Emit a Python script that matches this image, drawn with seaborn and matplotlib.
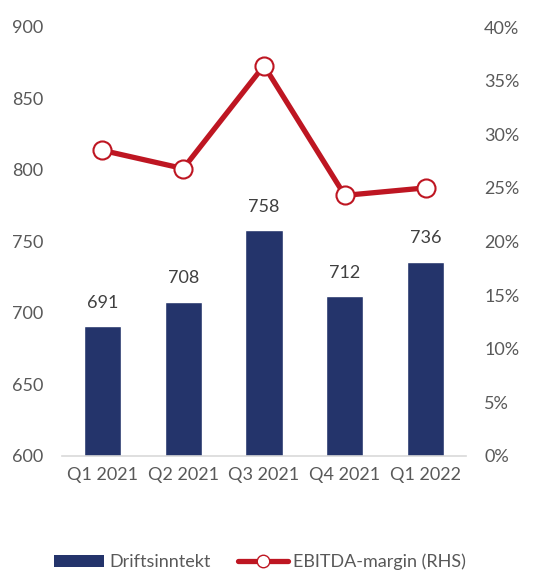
import matplotlib
matplotlib.use("Agg")
import matplotlib.pyplot as plt
import seaborn as sns
import pandas as pd
from matplotlib.ticker import PercentFormatter
from matplotlib.lines import Line2D
from matplotlib.patches import Patch

# data
kvartaler = ["Q1 2021", "Q2 2021", "Q3 2021", "Q4 2021", "Q1 2022"]
driftsinntekt = [691, 708, 758, 712, 736]
ebitda_margin = [28.5, 26.8, 36.4, 24.3, 25.0]

bar_farge = "#24346B"
linje_farge = "#BE1622"
tekst_farge = "#595959"
fs = 13

sns.set_theme(style="white")
plt.rcParams["font.family"] = ["Lato", "DejaVu Sans"]

df = pd.DataFrame({"kvartal": kvartaler, "inntekt": driftsinntekt, "margin": ebitda_margin})

fig, ax = plt.subplots(figsize=(5.51, 5.70), dpi=100)
fig.subplots_adjust(left=62/551, right=466/551, bottom=114/570, top=543/570)

sns.barplot(data=df, x="kvartal", y="inntekt", color=bar_farge, width=0.46,
            saturation=1, ax=ax)
ax.set_ylim(600, 900)
ax.set_xlim(-0.5, 4.5)
ax.set_yticks([600, 650, 700, 750, 800, 850, 900])
ax.set_xlabel("")
ax.set_ylabel("")

for i, v in enumerate(driftsinntekt):
    ax.annotate(str(v), (i, v), xytext=(0, 11), textcoords="offset points",
                ha="center", va="bottom", fontsize=fs, color="#404040")

ax2 = ax.twinx()
sns.lineplot(data=df, x="kvartal", y="margin", color=linje_farge, lw=3.8,
             marker="o", markersize=13, markerfacecolor="white",
             markeredgecolor=linje_farge, markeredgewidth=1.5, ax=ax2)
ax2.set_ylim(0, 40)
ax2.set_yticks(range(0, 41, 5))
ax2.yaxis.set_major_formatter(PercentFormatter(decimals=0))
ax2.set_ylabel("")

for a in (ax, ax2):
    for s in a.spines.values():
        s.set_visible(False)
    a.tick_params(axis="both", length=0, labelsize=fs, colors=tekst_farge)
ax.tick_params(axis="y", pad=13.5)
ax.tick_params(axis="x", pad=8)
ax2.tick_params(axis="y", pad=13)
ax.spines["bottom"].set_visible(True)
ax.spines["bottom"].set_color("#D9D9D9")
ax.spines["bottom"].set_linewidth(1.2)

handles = [Patch(facecolor=bar_farge, edgecolor="none"),
           Line2D([0], [0], color=linje_farge, lw=3.8, marker="o", markersize=9,
                  markerfacecolor="white", markeredgecolor=linje_farge)]
fig.legend(handles, ["Driftsinntekt", "EBITDA-margin (RHS)"], loc="center",
           bbox_to_anchor=(0.472, 8/570), ncol=2, frameon=False, fontsize=fs,
           handlelength=2.75, handleheight=0.7, columnspacing=1.5,
           labelcolor=tekst_farge, handletextpad=0.3)

fig.savefig("out.png", dpi=100)
